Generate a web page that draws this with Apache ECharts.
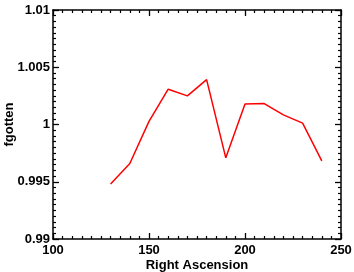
<!DOCTYPE html>
<html>
<head>
<meta charset="utf-8">
<script src="https://cdn.jsdelivr.net/npm/echarts@6/dist/echarts.min.js"></script>
<style>
html,body{margin:0;padding:0;background:#fff;}
#c{width:354px;height:272px;}
</style>
</head>
<body>
<div id="c"></div>
<script>
const raValues = [130, 140, 150, 160, 170, 180, 190, 200, 210, 220, 230, 240];
const fgottenValues = [0.9948, 0.99659, 1.00027, 1.00308, 1.0025, 1.00392, 0.99709, 1.00178, 1.00183, 1.00084, 1.00012, 0.99683];
const xTickLabels = ['100', '150', '200', '250'];
const yTickLabels = ['0.99', '0.995', '1', '1.005', '1.01'];

const font = 'Liberation Sans';
const lab = { fontFamily: font, fontWeight: 'bold', fontSize: 13, color: '#000' };
const axLine = { show: true, onZero: false, lineStyle: { color: '#000', width: 1.5 } };
const tick = { show: true, inside: true, length: 6, lineStyle: { color: '#000', width: 1.3 } };
const minor = { show: true, splitNumber: 10, length: 3, lineStyle: { color: '#000', width: 1.2 } };

const chart = echarts.init(document.getElementById('c'));
chart.setOption({
  animation: false,
  backgroundColor: '#fff',
  grid: { left: 53, right: 13, top: 10, bottom: 33, containLabel: false, outerBoundsMode: 'none' },
  xAxis: [{
    type: 'value', min: 100, max: 250, interval: 50, position: 'bottom',
    name: 'Right Ascension', nameLocation: 'middle', nameGap: 20, nameMoveOverlap: false,
    nameTextStyle: lab,
    axisLine: axLine, axisTick: tick, minorTick: minor, splitLine: { show: false },
    axisLabel: Object.assign({ margin: 5, formatter: (v) => xTickLabels[Math.round((v - 100) / 50)] }, lab)
  }, {
    type: 'value', min: 100, max: 250, interval: 50, position: 'top',
    axisLine: axLine, axisTick: tick, minorTick: minor, splitLine: { show: false },
    axisLabel: { show: false }
  }],
  yAxis: [{
    type: 'value', min: 0.99, max: 1.01, interval: 0.005, position: 'left',
    name: 'fgotten', nameLocation: 'middle', nameGap: 37, nameMoveOverlap: false,
    nameTextStyle: lab,
    axisLine: axLine, axisTick: tick, minorTick: minor, splitLine: { show: false },
    axisLabel: Object.assign({ margin: 3, padding: [5, 0, 0, 0], formatter: (v) => yTickLabels[Math.round((v - 0.99) / 0.005)] }, lab)
  }, {
    type: 'value', min: 0.99, max: 1.01, interval: 0.005, position: 'right',
    axisLine: axLine, axisTick: tick, minorTick: minor, splitLine: { show: false },
    axisLabel: { show: false }
  }],
  series: [{
    type: 'line',
    data: raValues.map((x, i) => [x, fgottenValues[i]]),
    showSymbol: false,
    symbol: 'none',
    lineStyle: { color: '#ff0000', width: 1.5 },
    xAxisIndex: 0, yAxisIndex: 0
  }]
});
</script>
</body>
</html>
